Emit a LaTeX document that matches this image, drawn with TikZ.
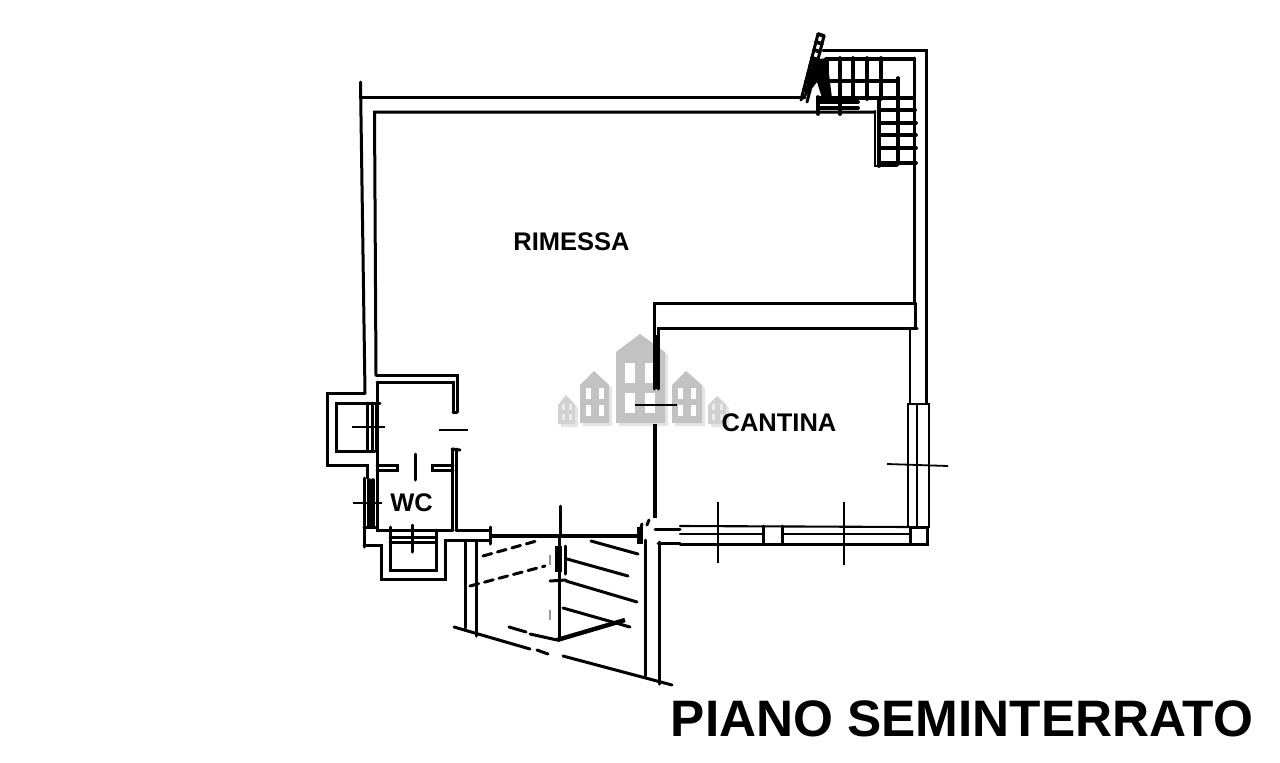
\documentclass[tikz,border=0pt]{standalone}
\usepackage{fontspec}
\usetikzlibrary{calc}
\setmainfont{Liberation Sans}
\tikzset{
  wall/.style={line width=3pt,black,line cap=round},
  stair/.style={line width=3.7pt,black,line cap=round},
  thin wall/.style={line width=2.1pt,black,line cap=round},
  heavy/.style={line width=4.4pt,black},
  tick/.style={line width=1.8pt,black},
  roomlabel/.style={font=\fontsize{25.5}{28}\selectfont\bfseries,text=black,inner sep=0pt},
  titlelabel/.style={font=\fontsize{51.3}{54}\selectfont\bfseries,text=black,inner sep=0pt},
  house/.style={fill=black!24,draw=none},
  smallhouse/.style={fill=black!18,draw=none},
  houseshadow/.style={fill=black!10,draw=none},
  win/.style={fill=white,draw=none},
  smallwin/.style={fill=black!8,draw=none}
}
\begin{document}
\begin{tikzpicture}[x=1pt,y=-1pt]
\useasboundingbox[fill=white] (0,0) rectangle (1280,763);
% watermark
\foreach \dx/\dy in {3/3}{
  \fill[houseshadow,shift={(\dx,\dy)}] (616,352)--(640,334)--(665,352)--(665,423)--(616,423)--cycle;
  \fill[houseshadow,shift={(\dx,\dy)}] (580,385)--(594,371)--(609,385)--(609,423)--(580,423)--cycle;
  \fill[houseshadow,shift={(\dx,\dy)}] (672,385)--(686,371)--(702,385)--(702,423)--(672,423)--cycle;
  \fill[houseshadow,shift={(\dx,\dy)}] (558,405)--(566,395)--(575,405)--(575,424)--(558,424)--cycle;
  \fill[houseshadow,shift={(\dx,\dy)}] (708,405)--(717,396)--(726,405)--(726,424)--(708,424)--cycle;
}
\fill[house] (616,352)--(640,334)--(665,352)--(665,423)--(616,423)--cycle;
\fill[house] (580,385)--(594,371)--(609,385)--(609,423)--(580,423)--cycle;
\fill[house] (672,385)--(686,371)--(702,385)--(702,423)--(672,423)--cycle;
\fill[smallhouse] (558,405)--(566,395)--(575,405)--(575,424)--(558,424)--cycle;
\fill[smallhouse] (708,405)--(717,396)--(726,405)--(726,424)--(708,424)--cycle;
\foreach \x in {625,645}{\foreach \y in {363,393}{\fill[win] (\x,\y) rectangle ++(10,20);}}
\foreach \x in {586,599}{\foreach \y in {388,405}{\fill[win] (\x,\y) rectangle ++(5,11);}}
\foreach \x in {678,691}{\foreach \y in {388,405}{\fill[win] (\x,\y) rectangle ++(5,11);}}
\foreach \x in {562,569}{\foreach \y in {404,414}{\fill[smallwin] (\x,\y) rectangle ++(3,6);}}
\foreach \x in {712,720}{\foreach \y in {404,414}{\fill[smallwin] (\x,\y) rectangle ++(3,6);}}
% main outer walls
\draw[wall] (360.5,82)--(365,393);
\draw[wall] (361,97)--(805,97);
\draw[wall] (376,375)--(374.5,112)--(875,112);
% top right outer
\draw[wall] (823,50)--(926,50)--(926,403);
\draw[wall] (914,58)--(914,303)--(654,303)--(654,389);
\draw[wall] (917,328)--(658,328)--(658,389);
\draw[wall] (915,303)--(915,328);
\fill[black] (654,335) rectangle (658,389);
\draw[thin wall] (910,328)--(910,404);
% stair
\draw[stair] (826,59)--(914,59);
\draw[stair] (826,81)--(896,81);
\foreach \x in {840,853,867,881}{\draw[stair] (\x,58)--(\x,99);}
\draw[line width=4.5pt] (827,58)--(827,98);
\draw[stair] (818,98)--(914,98);
\draw[stair] (818,102)--(858,102);
\draw[stair] (818,108)--(858,108);
\foreach \x in {818,840}{\draw[stair] (\x,97)--(\x,114);}
\draw[stair] (880,110)--(915,110);
\draw[stair] (898,78)--(898,164);
\draw[stair] (879,98)--(879,166);
\draw[thin wall] (875,111)--(875,166)--(897,166);
\foreach \y in {123,135,148,163}{\draw[stair] (879,\y)--(916,\y);}
% ladder and blob
\draw[wall] (818,34)--(801,100);
\draw[wall] (824,36)--(807,102);
\foreach \t in {0,.12,.24,.36,.48,.6,.72,.84}{\draw[stair] ($(818,34)!\t!(801,100)$)--($(824,36)!\t!(807,102)$);}
\fill[black] (812,60)--(827,58)--(832,98)--(822,98)--(817,82)--(803,100)--cycle;
% right window
\draw[thin wall] (908,404) rectangle (929,527);
\draw[thin wall] (917,404)--(917,527);
\draw[tick] (887,464)--(948,466);
% south window
\draw[wall] (910,527) rectangle (927,544);
\draw[thin wall] (680,526)--(910,527);
\draw[wall] (680,544)--(910,544);
\draw[thin wall] (680,534)--(763,534);
\draw[thin wall] (782,534)--(910,534);
\draw[wall] (763,526)--(763,544);
\draw[wall] (782,526)--(782,544);
\draw[tick] (718,502)--(718,563);
\draw[tick] (844,502)--(844,565);
% partition Rimessa / Cantina lower
\draw[tick] (635,405)--(677,405);
\draw[heavy] (655,424)--(655,518);
\draw[wall] (649,520)--(647,525);
\draw[wall] (642,524)--(640,531);
% WC block
\draw[wall] (376,375)--(457,375)--(457,412);
\draw[wall] (377,382)--(453,382)--(453,412);
\draw[wall] (453,412)--(457,412);
\draw[wall] (377,382)--(377,530)--(453,530);
% bump
\draw[wall] (365,393)--(327,393)--(327,465)--(367,465)--(367,478);
\draw[wall] (380,403)--(336,403)--(336,451)--(375,451);
\foreach \x in {367,372,376}{\draw[wall] (\x,403)--(\x,451);}
\draw[tick] (352,427)--(385,427);
% doors
\draw[wall] (377,465)--(397,465)--(397,470)--(377,470);
\draw[wall] (453,465)--(432,465)--(432,470)--(453,470);
\draw[wall] (452,449)--(452,530);
\draw[wall] (456,449)--(456,530);
\draw[wall] (452,449)--(460,450);
\draw[wall] (415,454)--(415,480);
\draw[tick] (439,430)--(468,430);
% lower left walls
\draw[wall] (364,478)--(364,547);
\foreach \x in {369,373}{\draw[stair] (\x,480)--(\x,527);}
\draw[tick] (353,503)--(382,503);
\draw[wall] (364,527)--(377,527);
\draw[wall] (364,545)--(381,545)--(381,579)--(445,579)--(445,540)--(490,540);
\draw[wall] (390,527)--(390,570)--(436,570)--(436,530);
\draw[wall] (390,537)--(436,537);
\draw[wall] (390,542)--(436,542);
\draw[wall] (412,525)--(412,552);
\draw[wall] (456,530)--(490,530);
% ramp
\draw[wall] (490,527)--(490,544);
\draw[heavy] (490,536)--(638,536);
\draw[line width=6pt] (640,527)--(640,544);
\draw[wall] (560,506)--(560,536);
\draw[wall] (559,536)--(559,640);
\draw[line width=7pt] (558,546)--(558,572);
\draw[wall] (565,546)--(565,574);
\draw[wall] (550,581)--(566,580);
\draw[wall] (465,542)--(465,628);
\draw[wall] (476,542)--(476,636);
\draw[wall] (645,540)--(645,676);
\draw[wall] (659,542)--(659,684);
\draw[wall] (655,529)--(680,529);
\draw[wall] (658,543)--(680,543);
\draw[wall] (454,627)--(530,649);
\draw[wall] (537,650)--(548,654);
\draw[wall] (563,656)--(672,685);
\draw[wall,dash pattern=on 9pt off 6pt] (483,556)--(540,540);
\draw[wall,dash pattern=on 9pt off 6pt] (470,586)--(545,566);
\draw[wall] (591,541)--(638,554);
\draw[wall] (567,559)--(628,576);
\draw[wall] (566,581)--(637,602);
\draw[wall] (563,608)--(630,627);
\draw[wall] (509,627)--(526,632);
\draw[wall] (530,634)--(557,640);
\draw[heavy] (557,640)--(625,620);
\draw[tick,black!40] (550,555)--(550,565);
\draw[tick,black!40] (550,610)--(550,620);
% labels
\node[roomlabel] (rimessa) at (571.5,242) {RIMESSA};
\node[roomlabel] (cantina) at (779,423) {CANTINA};
\node[roomlabel] (wc) at (411.5,503) {WC};
\node[titlelabel] (title) at (962,719) {PIANO SEMINTERRATO};
\end{tikzpicture}
\end{document}
